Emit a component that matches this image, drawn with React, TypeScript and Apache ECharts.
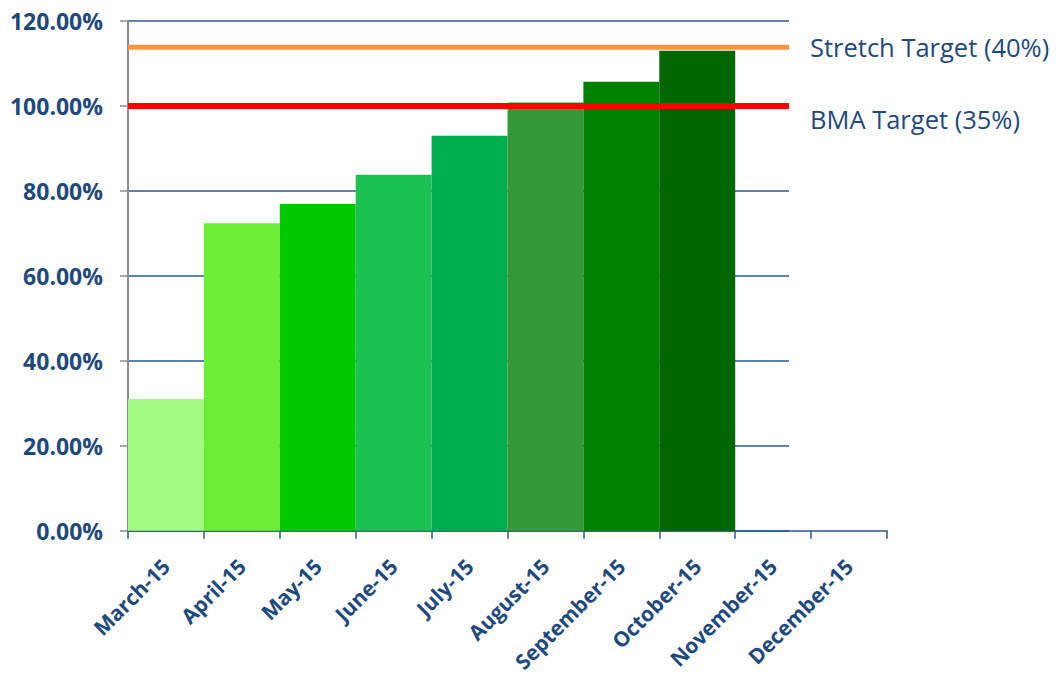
import React, { useEffect, useRef } from "react";
import * as echarts from "echarts";

const categories = [
  "March-15", "April-15", "May-15", "June-15", "July-15",
  "August-15", "September-15", "October-15", "November-15", "December-15",
];
const achieved = [31.0, 72.4, 76.9, 83.8, 93.0, 100.8, 105.7, 113.0, null, null];
const barColors = [
  "#A4FB82", "#6AEF36", "#00C800", "#1BC152", "#00AE50",
  "#359A36", "#008000", "#006600", "#006600", "#006600",
];
const stretchTarget = 113.8;
const bmaTarget = 100.0;
const stretchLabel = "Stretch Target (40%)";
const bmaLabel = "BMA Target (35%)";
const yTicks = { min: 0, max: 120, interval: 20 };

const DARK_BLUE = "#1F497D";

export default function App() {
  const ref = useRef<HTMLDivElement>(null);
  useEffect(() => {
    if (!ref.current) return;
    document.body.style.margin = "0";
    const chart = echarts.init(ref.current, null, { renderer: "svg" });
    chart.setOption({
      animation: false,
      grid: [
        { left: 128, right: 169, top: 21, bottom: 144 },
        { left: 128, width: 661, top: 21, bottom: 144 },
      ],
      xAxis: [
        {
          type: "category",
          gridIndex: 0,
          data: categories,
          boundaryGap: true,
          axisLine: { lineStyle: { color: "#2A5A8C", width: 1.5 } },
          axisTick: { show: true, length: 8, lineStyle: { color: "#2A5A8C", width: 1.5 } },
          axisLabel: {
            interval: 0,
            rotate: 45,
            margin: 32,
            color: DARK_BLUE,
            fontFamily: "Open Sans",
            fontWeight: "bold",
            fontSize: 21,
          },
          splitLine: { show: false },
        },
        {
          type: "value",
          gridIndex: 1,
          min: 0,
          max: 1,
          show: false,
        },
      ],
      yAxis: [
        {
          type: "value",
          gridIndex: 0,
          min: yTicks.min,
          max: yTicks.max,
          interval: yTicks.interval,
          axisLine: { show: true, lineStyle: { color: "#8C8C8C", width: 2 } },
          axisTick: { show: true, length: 8, lineStyle: { color: "#8C8C8C", width: 1.5 } },
          axisLabel: {
            margin: 25,
            color: DARK_BLUE,
            fontFamily: "Open Sans",
            fontWeight: "bold",
            fontSize: 23,
            formatter: (v: number) => v.toFixed(2) + "%",
          },
          splitLine: { show: false },
        },
        {
          type: "value",
          gridIndex: 1,
          min: yTicks.min,
          max: yTicks.max,
          interval: yTicks.interval,
          axisLine: { show: false },
          axisTick: { show: false },
          axisLabel: { show: false },
          splitLine: { show: true, lineStyle: { color: "#2A5A8C", width: 1.5 } },
        },
      ],
      series: [
        {
          type: "bar",
          xAxisIndex: 0,
          yAxisIndex: 0,
          barCategoryGap: "0%",
          data: achieved.map((v, i) => ({ value: v, itemStyle: { color: barColors[i] } })),
          z: 2,
        },
        {
          type: "line",
          name: stretchLabel,
          xAxisIndex: 1,
          yAxisIndex: 1,
          data: [[0, stretchTarget], [1, stretchTarget]],
          symbol: "none",
          clip: false,
          lineStyle: { color: "#F79646", width: 5 },
          z: 4,
          endLabel: {
            show: true,
            formatter: stretchLabel,
            distance: 21,
            color: DARK_BLUE,
            fontFamily: "Open Sans",
            fontSize: 25.5,
          },
        },
        {
          type: "line",
          name: bmaLabel,
          xAxisIndex: 1,
          yAxisIndex: 1,
          data: [[0, bmaTarget], [1, bmaTarget]],
          symbol: "none",
          clip: false,
          lineStyle: { color: "#FF0000", width: 6 },
          z: 4,
          endLabel: {
            show: true,
            formatter: bmaLabel,
            distance: 21,
            offset: [0, 13],
            color: DARK_BLUE,
            fontFamily: "Open Sans",
            fontSize: 25.5,
          },
        },
      ],
    });
    return () => chart.dispose();
  }, []);
  return <div ref={ref} style={{ width: 1056, height: 675 }} />;
}
